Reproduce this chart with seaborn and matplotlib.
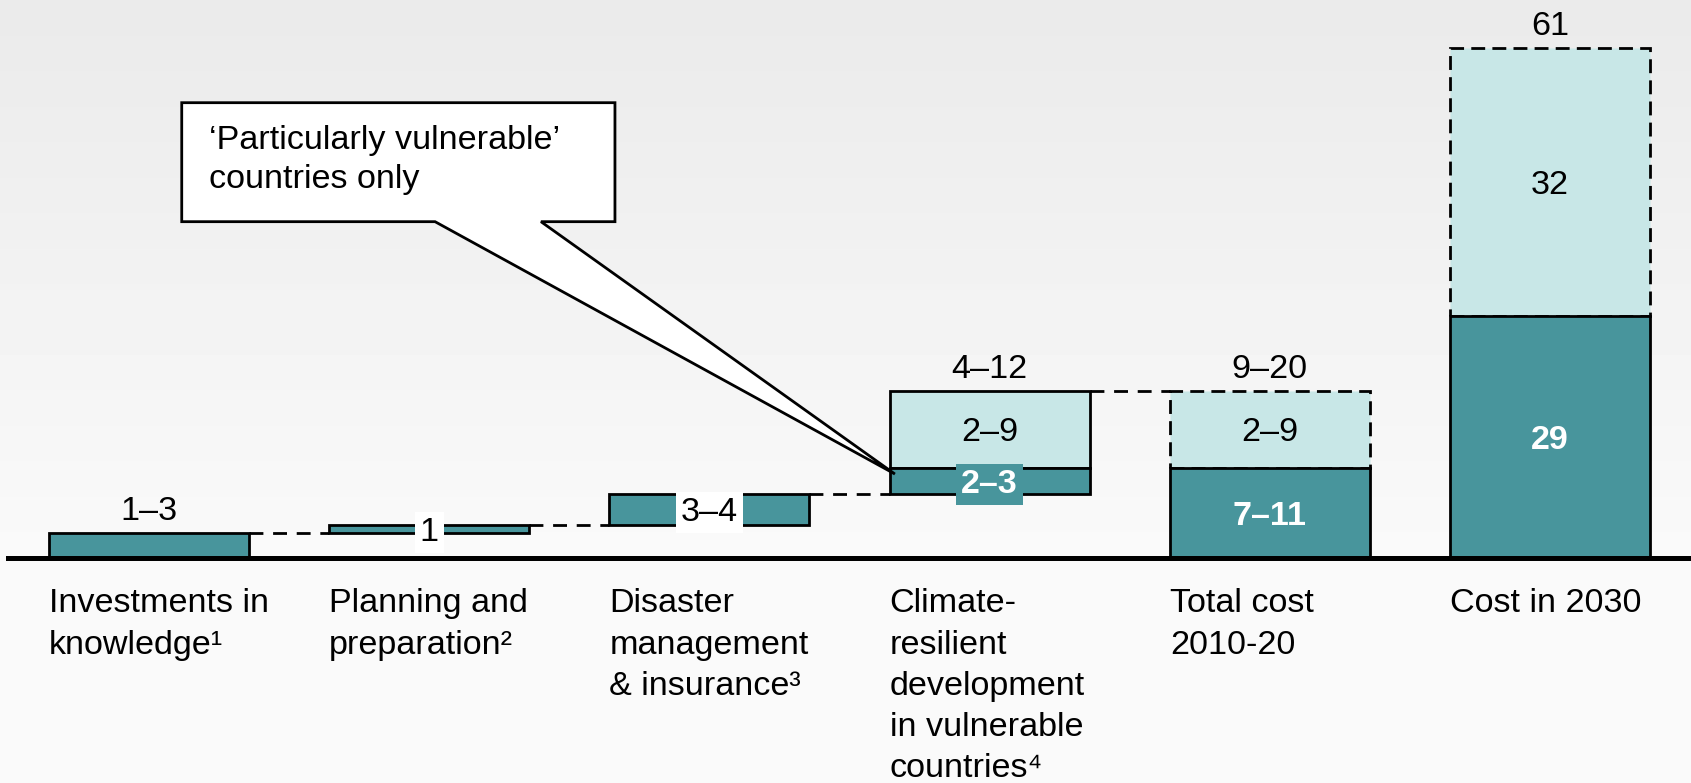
import numpy as np
import pandas as pd
import matplotlib
matplotlib.use("Agg")
import matplotlib.pyplot as plt
from matplotlib.patches import Polygon
import seaborn as sns

plt.rcParams['font.family'] = ['Liberation Sans', 'DejaVu Sans']

# data ($bn per year)
cats = ['knowledge', 'planning', 'disaster', 'resilient', 'total', 'cost2030']
x_labels = ['Investments in\nknowledge¹',
            'Planning and\npreparation²',
            'Disaster\nmanagement\n& insurance³',
            'Climate-\nresilient\ndevelopment\nin vulnerable\ncountries⁴',
            'Total cost\n2010-20',
            'Cost in 2030']
steps = [3, 1, 3.7, 3.1]
step_labels = ['1–3', '1', '3–4', '2–3']
vuln_extra = 9.2
vuln_extra_label = '2–9'
vuln_total_label = '4–12'
total_dark = [10.8, 29]
total_light = [9.2, 32]
total_dark_labels = ['7–11', '29']
total_light_labels = ['2–9', '32']
total_labels = ['9–20', '61']
callout_text = '‘Particularly vulnerable’\ncountries only'

DARK = '#48959C'
LIGHT = '#C8E7E7'
W = 0.714
FS = 24.6
LW = 2.0

fig = plt.figure(figsize=(16.91, 7.83), dpi=100)

# background gradient
bg = fig.add_axes([0, 0, 1, 1], zorder=-10)
rows = np.linspace(0, 1, 783)
grad = np.where(rows < 0.72, 0.918 + (0.98 - 0.918) * rows / 0.72, 0.98)
bg.imshow(grad[:, None], aspect='auto', cmap='gray', vmin=0, vmax=1,
          extent=[0, 1, 0, 1], origin='upper')
bg.axis('off')

ax = fig.add_axes([8 / 1691, 225 / 783, 1683 / 1691, 558 / 783])
ax.patch.set_alpha(0)

# waterfall steps
step_bottoms = np.concatenate([[0], np.cumsum(steps)[:-1]])
step_tops = np.cumsum(steps)
df_steps = pd.DataFrame({'cat': cats[:4], 'val': steps})
sns.barplot(data=df_steps, x='cat', y='val', order=cats, bottom=step_bottoms,
            width=W, color=DARK, saturation=1, errorbar=None,
            edgecolor='black', linewidth=LW, zorder=2, ax=ax)

# extra for vulnerable countries (light on top of bar 4)
sns.barplot(x=[cats[3]], y=[vuln_extra], order=cats, bottom=[step_tops[-1]],
            width=W, color=LIGHT, saturation=1, errorbar=None,
            edgecolor='black', linewidth=LW, zorder=1, ax=ax)

# totals
sns.barplot(x=cats[4:], y=total_light, order=cats, bottom=total_dark,
            width=W, color=LIGHT, saturation=1, errorbar=None,
            edgecolor='black', linewidth=LW, linestyle=(0, (5, 2.6)),
            zorder=1, ax=ax)
sns.barplot(x=cats[4:], y=total_dark, order=cats,
            width=W, color=DARK, saturation=1, errorbar=None,
            edgecolor='black', linewidth=LW, zorder=2, ax=ax)

# connectors
levels = list(step_tops[:3]) + [step_tops[-1] + vuln_extra]
for i, lv in enumerate(levels):
    ax.hlines(lv, i + W / 2, i + 1 - W / 2, colors='black', lw=LW,
              linestyles=(0, (5, 3.5)), zorder=2)

ax.axhline(0, color='black', lw=3.6, zorder=3, clip_on=False)

off = 1.56
# labels
ax.text(0, step_tops[0] + off, step_labels[0], ha='center', va='baseline', fontsize=FS)
for i in (1, 2):
    ax.text(i, step_bottoms[i] + steps[i] / 2, step_labels[i], ha='center',
            va='center_baseline', fontsize=FS, zorder=4,
            bbox=dict(boxstyle='square,pad=0.15', fc='white', ec='none'))
ax.text(3, step_bottoms[3] + steps[3] / 2, step_labels[3], ha='center',
        va='center_baseline', fontsize=FS, fontweight='bold', color='white', zorder=4,
        bbox=dict(boxstyle='square,pad=0.15', fc=DARK, ec='none'))
ax.text(3, step_tops[-1] + vuln_extra / 2, vuln_extra_label, ha='center',
        va='center_baseline', fontsize=FS, zorder=4)
ax.text(3, step_tops[-1] + vuln_extra + off, vuln_total_label, ha='center',
        va='baseline', fontsize=FS)
for j in range(2):
    x = 4 + j
    ax.text(x, total_dark[j] / 2, total_dark_labels[j], ha='center', va='center_baseline',
            fontsize=FS, fontweight='bold', color='white', zorder=4)
    ax.text(x, total_dark[j] + total_light[j] / 2, total_light_labels[j], ha='center',
            va='center_baseline', fontsize=FS, zorder=4)
    ax.text(x, total_dark[j] + total_light[j] + off, total_labels[j], ha='center',
            va='baseline', fontsize=FS)

# category labels under the axis
for i, lab in enumerate(x_labels):
    ax.text(i - W / 2, -3.65, lab, ha='left', va='top', fontsize=FS,
            linespacing=1.42, clip_on=False)

# callout
box = [(0.117, 54.49), (1.663, 54.49), (1.663, 40.25), (1.399, 40.25),
       (2.662, 10.05), (1.021, 40.25), (0.117, 40.25)]
ax.add_patch(Polygon(box, closed=True, fc='white', ec='black', lw=2, zorder=5))
ax.text(0.214, 51.8, callout_text, ha='left', va='top', fontsize=FS,
        linespacing=1.32, zorder=6)

ax.set_xlim(-0.503, 5.503)
ax.set_ylim(0, 66.78)
ax.set_xticks([])
ax.set_yticks([])
ax.set_xlabel('')
ax.set_ylabel('')
for s in ax.spines.values():
    s.set_visible(False)

fig.savefig('out.png', dpi=100)
